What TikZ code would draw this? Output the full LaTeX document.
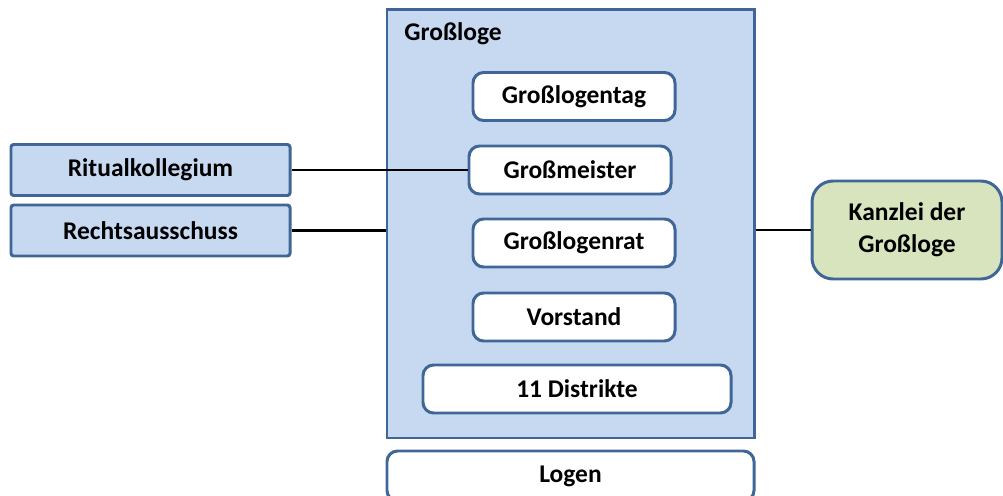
\documentclass[tikz,border=0pt]{standalone}
\usepackage{fontspec}
\setmainfont{Carlito}
\usepackage{xcolor}
\definecolor{cFrame}{HTML}{3F6696}
\definecolor{cFill}{HTML}{C6D9F1}
\definecolor{cGreen}{HTML}{D7E4BD}
\usetikzlibrary{positioning}
\tikzset{
  org-box/.style={draw=cFrame,line width=1.7pt,rounded corners=6pt,fill=white,
    minimum height=9.6mm,minimum width=40.4mm,align=center,
    font=\fontsize{14.5}{18}\selectfont\bfseries,inner sep=0pt},
  side-box/.style={org-box,fill=cFill,rounded corners=1.5pt,
    minimum width=55.8mm,minimum height=10.2mm},
  outer-box/.style={draw=cFrame,line width=1.7pt,fill=cFill,
    minimum width=73.4mm,minimum height=85.6mm,inner sep=0pt},
  link/.style={line width=1.4pt,draw=black},
}

\begin{document}
\begin{tikzpicture}[x=0.2mm,y=-0.2mm]
  \useasboundingbox (0,0) rectangle (1003,496);
  % Grossloge mit Organen
  \node[outer-box] (grossloge) at (570.5,224) {};
  \node[anchor=west,inner sep=0pt,font=\fontsize{14.5}{17}\selectfont\bfseries] (title) at (404,34) {Großloge};
  \node[org-box] (tag) at (574,96.5) {Großlogentag};
  \node[org-box] (meister) at (570,170) {Großmeister};
  \node[org-box] (rat) at (574,243) {Großlogenrat};
  \node[org-box] (vorstand) at (574,317) {Vorstand};
  \node[org-box,minimum width=61.6mm] (distrikte) at (577,389) {11 Distrikte};
  \node[org-box,minimum width=73.4mm,minimum height=10mm] (logen) at (570.5,476) {Logen};
  % links
  \node[side-box] (ritual) at (150.5,170) {Ritualkollegium};
  \node[side-box] (recht) at (150.5,230.5) {Rechtsausschuss};
  % rechts
  \node[org-box,fill=cGreen,rounded corners=12pt,minimum width=38mm,
    minimum height=19.6mm] (kanzlei) at (907,230) {Kanzlei der\\Großloge};
  \draw[link] (ritual.east) -- (meister.west);
  \draw[link] (recht.east) -- (recht.east -| grossloge.west);
  \draw[link] (grossloge.east |- kanzlei.west) -- (kanzlei.west);
\end{tikzpicture}
\end{document}
